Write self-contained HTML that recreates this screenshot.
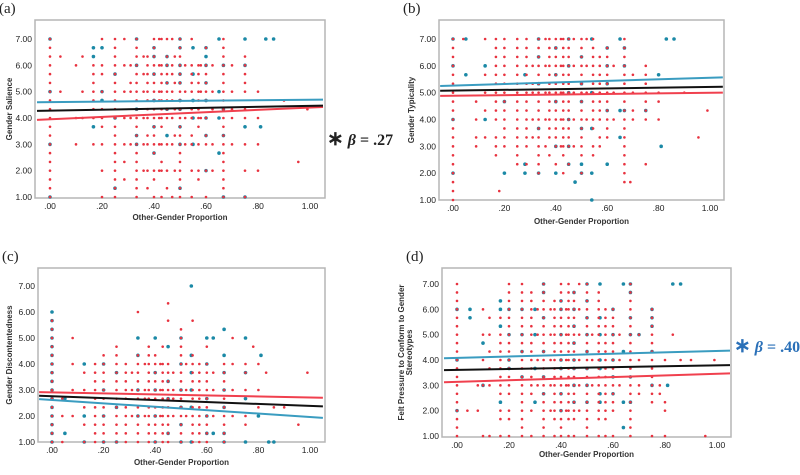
<!DOCTYPE html>
<html><head><meta charset="utf-8"><style>
html,body{margin:0;padding:0;background:#fff;}
svg{display:block;font-family:"Liberation Sans",Arial,sans-serif;}
</style></head><body>
<svg id="chart" width="800" height="475" viewBox="0 0 800 475"></svg>
<script>
// y-values are in thirds (3 = 1.00, 21 = 7.00); ranges "a-b" step 1
const xTicks = [0, 0.2, 0.4, 0.6, 0.8, 1.0];
const xTickLabels = [".00", ".20", ".40", ".60", ".80", "1.00"];
const yTicks = [1, 2, 3, 4, 5, 6, 7];
const yTickLabels = ["1.00", "2.00", "3.00", "4.00", "5.00", "6.00", "7.00"];
const lineX = [-0.05, 1.05];

const redA = [[0,"3-21"],[0.04,"15,19"],[0.1,"9,12,18"],[0.125,"12,15,19"],[0.167,"9,12-18"],[0.2,"3,6,9,11-13,15,17,18,21"],[0.25,"3-21"],[0.286,"5,7,9,12,15,18,21"],[0.31,"9,12,15,16,18"],[0.333,"3-21"],[0.36,"6,9,12,15,17,19"],[0.375,"4,6,9,10,12-19"],[0.4,"3,5,6,8-21"],[0.42,"6,9,12,14,15,18,21"],[0.429,"3,6,7,9,11-18,21"],[0.45,"4,6,9,12-19,21"],[0.47,"3,9,12,14,15,17,18,21"],[0.48,"6,10,13,16,19"],[0.5,"3-21"],[0.52,"9,12,15,18"],[0.545,"3,6,9,10,12,13,15-18,21"],[0.571,"5,6,9,11-18"],[0.58,"12,15,18"],[0.6,"3,6,9,10,12,14-18,20"],[0.625,"6,9,13,15,18"],[0.667,"3-21"],[0.7,"9,12,13,15,18"],[0.75,"3,6,9,12,13,15-19"],[0.8,"6,9,12,15"],[0.9,"14"],[0.955,"7"],[0.99,"13"]];
const blueA = [[0,"3,9,15,21"],[0.167,"11,19,20"],[0.2,"14,15,20"],[0.25,"4,12,17"],[0.333,"9,10,13,18,21"],[0.4,"8,11,14,17,19,20"],[0.45,"10,13,16,18,19"],[0.5,"4,9,11,13,14,16-18,20,21"],[0.55,"9,12,14,17,20"],[0.6,"6,10,12,14,16,18-20"],[0.65,"8,12,15,21"],[0.667,"3,10,13,18"],[0.75,"3,11,18,21"],[0.81,"11"],[0.83,"21"],[0.86,"21"]];
const linesA = {blue:[4.6,4.7], black:[4.27,4.47], red:[3.93,4.42]};

const redB = [[0,"3-21"],[0.04,"21"],[0.09,"9,10,12,14"],[0.125,"10,13,15,17,21"],[0.167,"8-10,12-21"],[0.2,"9-21"],[0.25,"7-21"],[0.286,"7,9-21"],[0.31,"10,12,15,16,18"],[0.333,"6-21"],[0.36,"9,12,15,18,21"],[0.375,"8,10-21"],[0.4,"7,9-21"],[0.42,"9,12,15,18,21"],[0.429,"6,8-21"],[0.45,"7,9-21"],[0.47,"9,12,15,18,21"],[0.5,"6,8-21"],[0.52,"12,15,18,21"],[0.545,"8,9,11-21"],[0.571,"9,10,12-19"],[0.6,"10-20"],[0.625,"12,15,18"],[0.667,"5-21"],[0.7,"12,13,15,17"],[0.75,"7,12-18"],[0.8,"12,14,15"],[0.9,"15"],[0.955,"10"],[0.99,"13"],[0.69,"5"],[0.18,"4"]];
const blueB = [[0,"6,12,18,21"],[0.05,"17,21"],[0.125,"12,18"],[0.2,"6,14"],[0.28,"6,7,17"],[0.333,"6,11,16,19,21"],[0.4,"6,9,14,17,20"],[0.45,"7,9,12,15,18,21"],[0.5,"6,7,11,14,16,19"],[0.54,"3,6,11,15,21"],[0.6,"7,13,16,18,20"],[0.65,"10,13,21"],[0.667,"13,18,20"],[0.75,"13"],[0.8,"17"],[0.81,"9"],[0.83,"21"],[0.86,"21"],[0.475,"5"]];
const linesB = {blue:[5.25,5.57], black:[5.07,5.22], red:[4.88,5.0]};

const redC = [[0,"3-17"],[0.04,"3,6,8"],[0.08,"6,9,12,15"],[0.125,"3,5,7,9,11"],[0.167,"3-12"],[0.2,"3-13"],[0.25,"3-14"],[0.286,"3-12"],[0.31,"6,9,11"],[0.333,"3-13,18"],[0.36,"6,8,9,12"],[0.375,"3-14"],[0.4,"3-13"],[0.42,"6,9,12"],[0.429,"3-12,14"],[0.45,"3-12,17,19"],[0.47,"6,8,9,11"],[0.5,"3-15,16"],[0.52,"6,9,12"],[0.545,"3-13,17"],[0.571,"3-12"],[0.6,"3-12,14"],[0.625,"6,9,11"],[0.667,"3-12"],[0.7,"6,9,12,15"],[0.75,"5,6,9,11,12"],[0.78,"14"],[0.8,"7,9,12"],[0.83,"11"],[0.86,"7"],[0.9,"7"],[0.955,"5"],[0.99,"11"]];
const blueC = [[0,"3-18"],[0.05,"4,8"],[0.125,"3,6,12"],[0.2,"3,6,9,12"],[0.25,"3,7,11"],[0.333,"6,9,13,15"],[0.4,"3,6,9,11,15"],[0.45,"4,8,10,14"],[0.5,"3,5,7,9,12,15"],[0.54,"3,7,9,11,13,21"],[0.6,"4,6,8,12,15"],[0.625,"4,15"],[0.667,"3,4,7,9,11,13,16"],[0.75,"3,8,11,15"],[0.8,"6"],[0.81,"13"],[0.84,"3"],[0.86,"3"]];
const linesC = {red:[2.92,2.7], black:[2.78,2.37], blue:[2.65,1.93]};

const redD = [[0,"3-21"],[0.04,"6"],[0.08,"6,9"],[0.1,"3,9,12,15,18"],[0.125,"3,9,11,13,15,17"],[0.167,"3,5,6,8-15,17"],[0.2,"3,5,6,8-21"],[0.25,"3-21"],[0.286,"3,6,8-20"],[0.31,"9,12,15,18"],[0.333,"3-21"],[0.36,"6,9,12,15,18"],[0.375,"3,5-19"],[0.4,"3-21"],[0.42,"6,9,12,15,18"],[0.429,"3,5-21"],[0.45,"3,5-20"],[0.47,"6,9,12,15,18,21"],[0.5,"3-21"],[0.52,"9,12,15"],[0.545,"3,5-20"],[0.571,"3,5-18"],[0.6,"3,6-18"],[0.625,"9,12,15"],[0.667,"3-21"],[0.7,"8,9,12,15"],[0.75,"3,7-18"],[0.78,"8,9"],[0.8,"3,6,7,12"],[0.83,"15"],[0.86,"12"],[0.9,"12"],[0.955,"3"],[0.99,"12"]];
const blueD = [[0,"6,12,18"],[0.05,"17,18"],[0.1,"9,14"],[0.167,"7,16,18,19"],[0.2,"11,12,15,18"],[0.25,"10,13,15,18"],[0.3,"7,11,15,18"],[0.333,"8,10,13,17,20,21"],[0.4,"6,8,11,12,15,18,19"],[0.45,"7,9,11,12,14,16,18,20"],[0.5,"7,9,11,13,15,17,19,21"],[0.55,"7,8,11,12,15,17,21"],[0.6,"8,10,12,15,18"],[0.64,"4,7,13,21"],[0.667,"7,10,15,17,20,21"],[0.7,"15"],[0.75,"9,13,16,17,18"],[0.81,"9"],[0.83,"21"],[0.86,"21"]];
const linesD = {blue:[4.07,4.37], black:[3.6,3.8], red:[3.12,3.47]};

const NS = "http://www.w3.org/2000/svg";
const svg = document.getElementById("chart");
function mk(tag, attrs, parent) {
  const e = document.createElementNS(NS, tag);
  for (const k in attrs) e.setAttribute(k, attrs[k]);
  (parent || svg).appendChild(e);
  return e;
}
function parseYs(s) {
  const out = [];
  s.split(",").forEach(p => {
    if (p.indexOf("-") > 0) { const [a, b] = p.split("-").map(Number); for (let v = a; v <= b; v++) out.push(v / 3); }
    else out.push(Number(p) / 3);
  });
  return out;
}

function panel(cfg) {
  const g = mk("g", {});
  
  
  const sx = v => cfg.x0 + (v) * (cfg.x1 - cfg.x0);
  const sy = v => cfg.y1 + (v - 1) * (cfg.y7 - cfg.y1) / 6;
  const frame = mk("rect", {x: cfg.bx0, y: cfg.by0, width: cfg.bx1 - cfg.bx0, height: cfg.by1 - cfg.by0, fill: "#fff", stroke: "#b5b5b5", "stroke-width": 1.5}, g);
  
  
  const lab = mk("text", {x: cfg.bx0 - 36, y: cfg.by0 - 7, "font-family": "Liberation Serif,serif", "font-size": 15, fill: "#222"}, g);
  lab.textContent = cfg.label;
  
  
  yTicks.forEach((t, i) => {
    const tx = mk("text", {x: cfg.bx0 - 3, y: sy(t) + 3, "text-anchor": "end", "font-size": 8.5, fill: "#222"}, g);
    tx.textContent = yTickLabels[i];
    
    
  });
  xTicks.forEach((t, i) => {
    const tx = mk("text", {x: sx(t), y: cfg.by1 + 11, "text-anchor": "middle", "font-size": 8.5, fill: "#222"}, g);
    tx.textContent = xTickLabels[i];
    
    
  });
  const xt = mk("text", {x: (cfg.bx0 + cfg.bx1) / 2, y: cfg.xtY, "text-anchor": "middle", "font-size": 8, "font-weight": "bold", fill: "#333"}, g);
  xt.textContent = "Other-Gender Proportion";
  
  
  const cy = (cfg.by0 + cfg.by1) / 2;
  cfg.ytitle.forEach((line, i) => {
    const xx = cfg.ytX + i * 8;
    const yt = mk("text", {x: xx, y: cy, "text-anchor": "middle", "font-size": 8, "font-weight": "bold", fill: "#333", transform: "rotate(-90 " + xx + " " + cy + ")"}, g);
    yt.textContent = line;
    
    
  });
  cfg.blue.forEach(col => parseYs(col[1]).forEach(y => {
    const c = mk("circle", {cx: sx(col[0]), cy: sy(y), r: 1.8, fill: "#1b89a6"}, g);
    
    
  }));
  cfg.red.forEach(col => parseYs(col[1]).forEach(y => {
    const c = mk("circle", {cx: sx(col[0]), cy: sy(y), r: 1.3, fill: "#e8323f"}, g);
    
    
  }));
  const colors = {blue: "#3a9cc0", black: "#111", red: "#f0404e"};
  ["blue", "red", "black"].forEach(k => {
    const v = cfg.lines[k];
    const l = mk("line", {x1: sx(lineX[0]), y1: sy(v[0]), x2: sx(lineX[1]), y2: sy(v[1]), stroke: colors[k], "stroke-width": 2}, g);
    
    
  });
}

panel({name: "panel-a", label: "(a)", bx0: 35, bx1: 325, by0: 20, by1: 198, x0: 50, x1: 310, y1: 197, y7: 39, xtY: 220, ytX: 12, ytitle: ["Gender Salience"], red: redA, blue: blueA, lines: linesA});
panel({name: "panel-b", label: "(b)", bx0: 439, bx1: 724, by0: 20, by1: 200, x0: 453, x1: 710, y1: 200, y7: 39, xtY: 224, ytX: 414, ytitle: ["Gender Typicality"], red: redB, blue: blueB, lines: linesB});
panel({name: "panel-c", label: "(c)", bx0: 38, bx1: 325, by0: 268, by1: 442, x0: 52, x1: 310, y1: 442, y7: 286, xtY: 465, ytX: 12, ytitle: ["Gender Discontentedness"], red: redC, blue: blueC, lines: linesC});
panel({name: "panel-d", label: "(d)", bx0: 442, bx1: 731, by0: 268, by1: 437, x0: 457, x1: 717, y1: 436, y7: 284, xtY: 457, ytX: 404, ytitle: ["Felt Pressure to Conform to Gender", "Stereotypes"], red: redD, blue: blueD, lines: linesD});

const b1 = mk("text", {x: 327, y: 145, "font-family": "Liberation Serif,serif", "font-size": 16, "font-weight": "bold", fill: "#222"});
b1.innerHTML = '<tspan font-size="20">∗</tspan> <tspan font-style="italic">β</tspan> = .27';


const b2 = mk("text", {x: 734, y: 352, "font-family": "Liberation Serif,serif", "font-size": 16, "font-weight": "bold", fill: "#2a70b8"});
b2.innerHTML = '<tspan font-size="20">∗</tspan>  <tspan font-style="italic">β</tspan> = .40';


</script>
</body></html>
